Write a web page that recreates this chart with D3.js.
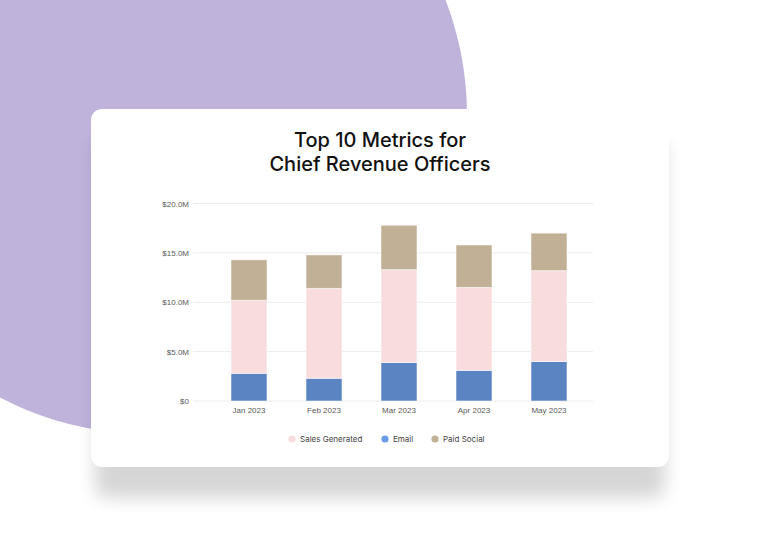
<!DOCTYPE html>
<html><head><meta charset="utf-8">
<script src="https://cdn.jsdelivr.net/npm/d3@7"></script>
<style>html,body{margin:0;padding:0;background:#fff;}svg{display:block;}</style>
</head><body>
<svg id="c" width="760" height="540"></svg>
<script>
const months = ["Jan 2023","Feb 2023","Mar 2023","Apr 2023","May 2023"];
const email = [2.8, 2.3, 3.9, 3.1, 4.0];
const salesGenerated = [7.4, 9.1, 9.4, 8.4, 9.2];
const paidSocial = [4.1, 3.4, 4.5, 4.3, 3.8];
const yTicks = [0, 5, 10, 15, 20];
const seriesNames = ["Email","Sales Generated","Paid Social"];
const legendNames = ["Sales Generated","Email","Paid Social"];
const colors = {"Email":"#5a85c2","Sales Generated":"#f9dcde","Paid Social":"#c1b096"};
const legendColors = {"Email":"#6b9ae6","Sales Generated":"#f9dcde","Paid Social":"#c1b096"};

const svg = d3.select("#c");
const defs = svg.append("defs");
const f = defs.append("filter").attr("id","sh").attr("x","-20%").attr("y","-20%").attr("width","140%").attr("height","140%");
f.append("feGaussianBlur").attr("stdDeviation",9);

// background blob
svg.append("circle").attr("cx",148).attr("cy",115).attr("r",319).attr("fill","#bfb3dc");
// shadow
svg.append("rect").attr("x",95).attr("y",140).attr("width",570).attr("height",358).attr("rx",12)
  .attr("fill","#000").attr("opacity",0.16).attr("filter","url(#sh)");
// card
svg.append("rect").attr("x",91).attr("y",109).attr("width",578).attr("height",358).attr("rx",11).attr("fill","#fff");

// title
const title = svg.append("text").attr("text-anchor","middle").attr("font-family","Inter, sans-serif")
  .attr("font-size",20).attr("font-weight",500).attr("fill","#111");
title.append("tspan").attr("x",380).attr("y",147).text("Top 10 Metrics for");
title.append("tspan").attr("x",380).attr("y",171).text("Chief Revenue Officers");

const y = d3.scaleLinear().domain([0,20]).range([401,203.5]);
const x = d3.scaleBand().domain(months).range([211.5,586.5]).paddingInner(0.52).paddingOuter(0.26);

// grid
const g = svg.append("g");
g.selectAll("line.grid").data(yTicks).join("line")
  .attr("x1",193).attr("x2",593).attr("y1",d=>y(d)).attr("y2",d=>y(d))
  .attr("stroke","#ececec").attr("stroke-width",1);

// y axis labels
const yAxis = d3.axisLeft(y).tickValues(yTicks).tickSize(0).tickPadding(0)
  .tickFormat(d => d===0 ? "$0" : "$" + d.toFixed(1) + "M");
const ya = svg.append("g").attr("transform","translate(189,0)").call(yAxis);
ya.select(".domain").remove();
ya.selectAll("text").attr("font-family","'Liberation Sans', Arial, sans-serif").attr("font-size",8).attr("fill","#5a5a5a");

// x axis labels
const xAxis = d3.axisBottom(x).tickSize(0).tickPadding(0);
const xa = svg.append("g").attr("transform","translate(0,407)").call(xAxis);
xa.select(".domain").remove();
xa.selectAll("text").attr("font-family","'Liberation Sans', Arial, sans-serif").attr("font-size",8).attr("fill","#5a5a5a");

// stacked bars
const table = months.map((m,i)=>({month:m,"Email":email[i],"Sales Generated":salesGenerated[i],"Paid Social":paidSocial[i]}));
const stack = d3.stack().keys(seriesNames)(table);
svg.append("g").selectAll("g").data(stack).join("g").attr("fill",d=>colors[d.key])
  .selectAll("rect").data(d=>d).join("rect")
  .attr("x",d=>x(d.data.month)).attr("width",x.bandwidth())
  .attr("y",d=>y(d[1])).attr("height",d=>y(d[0])-y(d[1]))
  .attr("stroke","#fff").attr("stroke-opacity",0.55).attr("stroke-width",1);

// legend
const legendX = [292, 385, 435];
const lg = svg.append("g");
legendNames.forEach((n,i)=>{
  lg.append("circle").attr("cx",legendX[i]).attr("cy",439).attr("r",3.6).attr("fill",legendColors[n]);
  lg.append("text").attr("x",legendX[i]+8).attr("y",442).attr("font-family","Inter, sans-serif")
    .attr("font-size",8).attr("fill","#444").text(n);
});
</script>
</body></html>
